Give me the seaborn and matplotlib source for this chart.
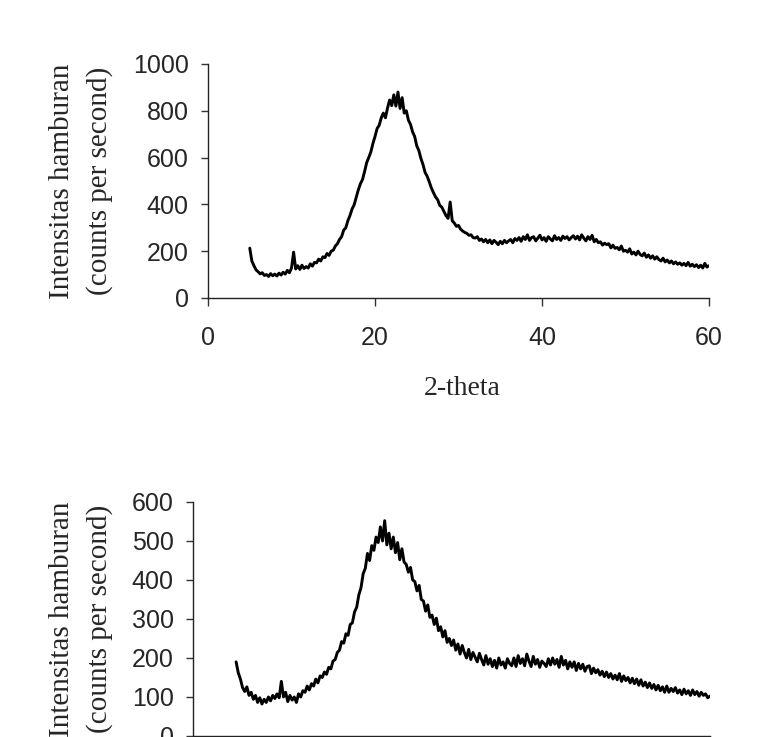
import numpy as np
import seaborn as sns
import matplotlib.pyplot as plt

# XRD scans, every 0.25 deg from 5 to 60 (2-theta)
scan_start = 5.0
scan_step = 0.25

# upper sample, counts per second
cps_top = [
    213, 158, 138, 120, 112, 103, 108, 96, 100, 92, 104, 95, 102, 94, 106, 98,
    110, 102, 118, 108, 128, 196, 124, 138, 122, 140, 126, 134, 128, 146, 136, 152,
    150, 166, 158, 176, 172, 190, 182, 200, 204, 222, 232, 250, 262, 290, 300, 330,
    352, 380, 398, 430, 462, 488, 506, 540, 578, 600, 624, 660, 690, 724, 738, 770,
    790, 770, 812, 846, 822, 868, 820, 880, 810, 856, 790, 800, 760, 742, 710, 690,
    650, 630, 596, 570, 536, 520, 496, 470, 450, 432, 420, 396, 388, 370, 352, 340,
    410, 330, 320, 306, 310, 294, 286, 280, 276, 268, 270, 258, 256, 262, 246, 252,
    240, 250, 236, 248, 232, 246, 238, 228, 242, 232, 246, 236, 244, 250, 236, 254,
    246, 258, 242, 262, 250, 270, 246, 258, 262, 244, 256, 268, 248, 258, 242, 262,
    252, 244, 266, 250, 258, 246, 264, 254, 262, 248, 258, 266, 252, 264, 248, 270,
    256, 244, 262, 250, 268, 240, 250, 236, 240, 226, 234, 228, 232, 214, 226, 212,
    216, 206, 222, 200, 204, 196, 210, 188, 196, 184, 200, 186, 180, 192, 174, 184,
    170, 180, 166, 176, 164, 158, 170, 154, 162, 150, 158, 146, 154, 144, 150, 140,
    148, 138, 152, 136, 144, 134, 142, 130, 140, 128, 148, 132, 138,
]

# lower sample, counts per second
cps_bottom = [
    190, 162, 146, 124, 114, 126, 104, 112, 94, 104, 86, 98, 82, 94, 86, 100,
    90, 104, 96, 108, 98, 140, 100, 112, 88, 104, 92, 100, 86, 108, 100, 116,
    112, 128, 118, 134, 128, 146, 136, 154, 150, 164, 158, 176, 172, 192, 196, 214,
    220, 242, 238, 262, 258, 286, 290, 318, 330, 362, 380, 416, 430, 468, 450, 488,
    476, 510, 496, 536, 500, 552, 490, 520, 480, 510, 470, 496, 452, 480, 446, 440,
    420, 432, 400, 396, 372, 386, 350, 346, 320, 336, 304, 310, 286, 302, 270, 280,
    254, 270, 240, 250, 232, 246, 220, 236, 210, 232, 214, 200, 222, 196, 214, 202,
    190, 212, 196, 182, 206, 184, 198, 178, 194, 174, 200, 182, 190, 174, 198, 186,
    180, 200, 178, 206, 186, 198, 180, 210, 192, 178, 204, 184, 196, 176, 192, 186,
    178, 198, 182, 200, 184, 196, 176, 204, 182, 194, 172, 190, 176, 190, 168, 186,
    172, 184, 166, 178, 180, 160, 174, 162, 170, 156, 166, 152, 164, 150, 160, 146,
    156, 144, 160, 140, 154, 142, 150, 136, 148, 134, 146, 130, 144, 128, 138, 124,
    136, 122, 132, 118, 130, 116, 126, 112, 128, 112, 122, 114, 124, 110, 118, 106,
    120, 108, 116, 104, 118, 106, 114, 102, 112, 104, 108, 98, 102,
]

x_ticks = [0, 20, 40, 60]
y_ticks_top = [0, 200, 400, 600, 800, 1000]
y_ticks_bottom = [0, 100, 200, 300, 400, 500, 600]

two_theta = scan_start + scan_step * np.arange(len(cps_top))

sns.set_style("ticks")
plt.rcParams['font.family'] = ['Liberation Sans', 'DejaVu Sans']

fig = plt.figure(figsize=(7.6, 7.37), dpi=100)
ax1 = fig.add_axes([0.2737, 0.5957, 0.6592, 0.3175])
ax2 = fig.add_axes([0.254, 0.0014, 0.680, 0.3175])

ylab = 'Intensitas hamburan\n(counts per second)'
serif = {'family': 'Liberation Serif', 'size': 21}

for ax, cps, yt in [(ax1, cps_top, y_ticks_top), (ax2, cps_bottom, y_ticks_bottom)]:
    sns.lineplot(x=two_theta, y=cps, ax=ax, color='black', lw=2.1)
    ax.set_xlim(0, 60)
    ax.set_ylim(0, yt[-1])
    ax.set_xticks(x_ticks)
    ax.set_yticks(yt)
    ax.tick_params(axis='y', labelsize=18, length=5, width=1, pad=9, color='#333333')
    ax.tick_params(axis='x', labelsize=18, length=6, width=1, pad=14, color='#333333')
    for s in ['top', 'right']:
        ax.spines[s].set_visible(False)
    for s in ['left', 'bottom']:
        ax.spines[s].set_linewidth(1)
        ax.spines[s].set_color('#222222')
    ax.set_ylabel(ylab, fontdict=serif, linespacing=1.55)

# the lower panel is cropped right at its x axis, so its x labels are not visible
ax2.tick_params(axis='x', labelbottom=False)

ax1.set_xlabel('2-theta', fontdict={'family': 'Liberation Serif', 'size': 20})
ax1.xaxis.set_label_coords(0.508, -0.335)
ax1.yaxis.set_label_coords(-0.19, 0.5)
ax2.yaxis.set_label_coords(-0.155, 0.5)

fig.savefig('out.png', dpi=100)
